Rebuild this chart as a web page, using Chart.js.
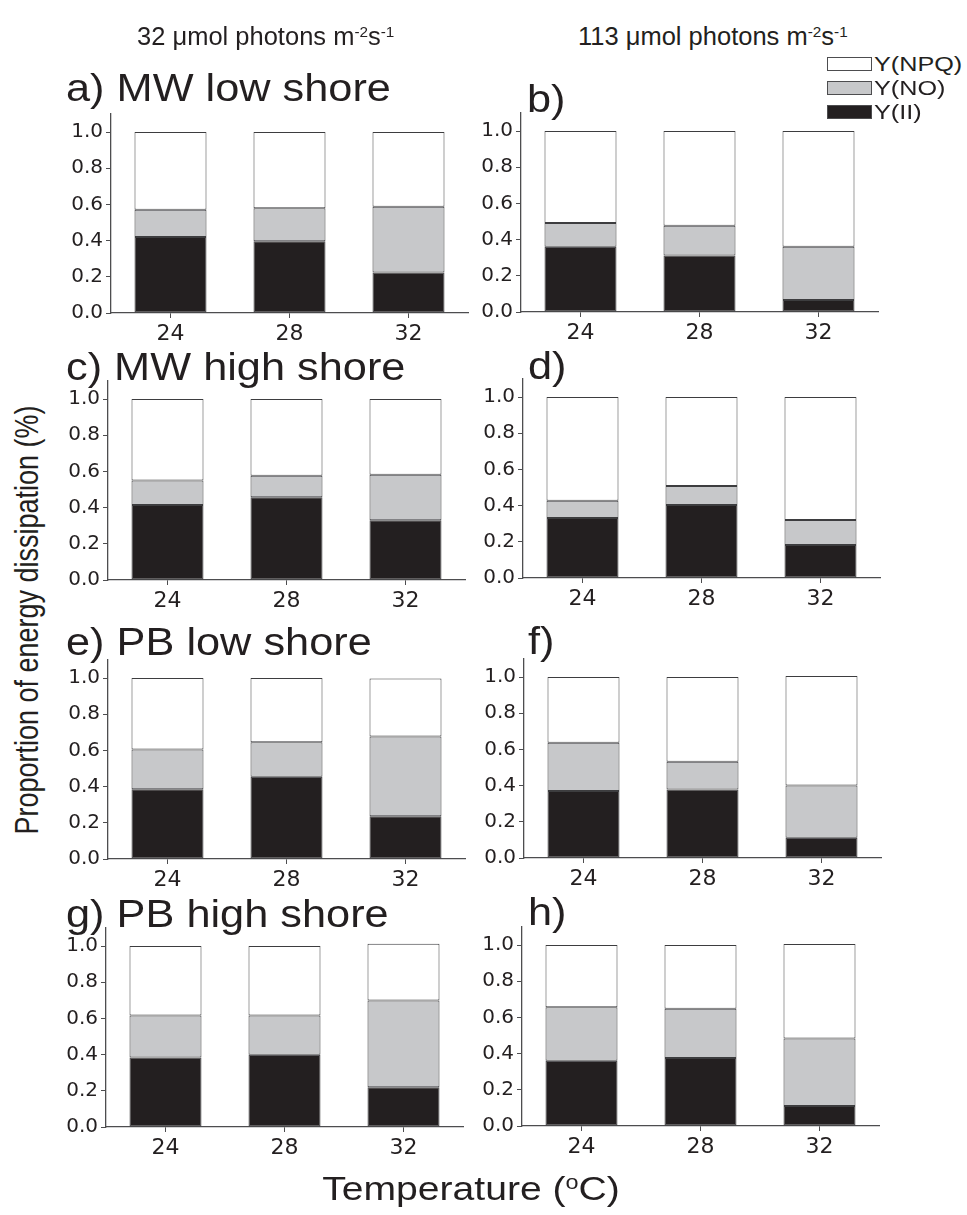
<!DOCTYPE html>
<html>
<head>
<meta charset="utf-8">
<script src="https://cdn.jsdelivr.net/npm/chart.js@4.4.1/dist/chart.umd.min.js"></script>
<style>
  body { margin: 0; background: #fff; }
  #page { position: relative; width: 967px; height: 1215px; overflow: hidden; font-family: "Liberation Sans", Arial, sans-serif; color: #231f20; }
  #page canvas { position: absolute; }
  .txt { position: absolute; white-space: nowrap; line-height: 1; transform-origin: 0 0; }
  .txt sup { font-size: 60%; vertical-align: 0.55em; line-height: 0; }
  .key { position: absolute; width: 43px; height: 12px; border: 1px solid #4d4d4f; }
</style>
</head>
<body>
<div id="page"></div>
<script>
const temps = ["24", "28", "32"];
const panelTitles = ["a) MW low shore", "b)", "c) MW high shore", "d)", "e) PB low shore", "f)", "g) PB high shore", "h)"];
const seriesNames = ["Y(II)", "Y(NO)", "Y(NPQ)"];

// one row per panel (a..h), values for 24, 28, 32 °C
const yII = [
  [0.420, 0.396, 0.224],
  [0.361, 0.313, 0.067],
  [0.415, 0.458, 0.330],
  [0.331, 0.403, 0.182],
  [0.386, 0.454, 0.236],
  [0.370, 0.378, 0.112],
  [0.384, 0.400, 0.220],
  [0.361, 0.376, 0.110],
];
const yNO = [
  [0.151, 0.183, 0.364],
  [0.131, 0.164, 0.293],
  [0.135, 0.118, 0.252],
  [0.096, 0.105, 0.138],
  [0.219, 0.192, 0.441],
  [0.267, 0.154, 0.289],
  [0.232, 0.216, 0.479],
  [0.296, 0.272, 0.373],
];
const yNPQ = [
  [0.429, 0.421, 0.412],
  [0.508, 0.523, 0.640],
  [0.450, 0.424, 0.418],
  [0.573, 0.492, 0.680],
  [0.395, 0.354, 0.321],
  [0.363, 0.468, 0.605],
  [0.384, 0.384, 0.314],
  [0.343, 0.352, 0.523],
];

const colors = ["#231f20", "#c7c8ca", "#ffffff"];
const axisColor = "#4d4d4f";
const tickFont = "'DejaVu Sans', sans-serif";

// layout: y-axis x position and zero-line y position of each panel
const axisX = [111, 521, 108, 523, 108, 524, 106, 522];
const zeroY = [313, 312, 580, 578, 859, 858, 1127, 1126];
const titleX = [66, 527, 66, 528, 66, 528, 66, 528];
const titleBase = [101, 112, 380, 379, 655, 654, 927, 925];

const page = document.getElementById("page");

function addText(html, x, baseline, size, sx, extra) {
  const d = document.createElement("div");
  d.className = "txt";
  d.innerHTML = html;
  d.style.fontSize = size + "px";
  d.style.left = x + "px";
  d.style.top = (baseline - 0.8465 * size) + "px";
  if (sx) d.style.transform = "scaleX(" + sx + ")";
  if (extra) Object.assign(d.style, extra);
  page.appendChild(d);
  return d;
}

function makePanel(i) {
  const yW = 60, xH = 46, padT = 18, padR = 8;
  const plotW = 357, plotH = 199;
  const cv = document.createElement("canvas");
  cv.width = yW + plotW + padR;
  cv.height = padT + plotH + xH;
  cv.style.left = (axisX[i] - yW) + "px";
  cv.style.top = (zeroY[i] - plotH - padT) + "px";
  page.appendChild(cv);

  const sets = [yII[i], yNO[i], yNPQ[i]].map((vals, k) => ({
    label: seriesNames[k],
    data: vals,
    backgroundColor: colors[k],
    borderColor: "#3d3d3f",
    borderWidth: 1,
    borderSkipped: false,
    barPercentage: 0.605,
    categoryPercentage: 1,
  }));

  new Chart(cv, {
    type: "bar",
    data: { labels: temps, datasets: sets },
    options: {
      responsive: false,
      animation: false,
      layout: { padding: { top: padT, right: padR, left: 0, bottom: 0 } },
      plugins: { legend: { display: false }, tooltip: { enabled: false } },
      scales: {
        x: {
          stacked: true,
          grid: { display: true, drawOnChartArea: false, offset: false, tickLength: 5, color: axisColor },
          border: { display: true, color: axisColor, width: 1.3 },
          ticks: { color: "#231f20", font: { size: 22, family: tickFont }, padding: 3 },
          afterFit: (s) => { s.height = xH; },
        },
        y: {
          stacked: true,
          min: 0,
          max: 1.1,
          grid: { display: true, drawOnChartArea: false, tickLength: 5, color: axisColor },
          border: { display: true, color: axisColor, width: 1.3 },
          ticks: {
            stepSize: 0.2,
            includeBounds: false,
            color: "#231f20",
            font: { size: 20, family: tickFont },
            padding: 3,
            callback: (v) => v.toFixed(1),
          },
          afterFit: (s) => { s.width = yW; },
        },
      },
    },
  });

  addText(panelTitles[i], titleX[i], titleBase[i], 38, 1.14);
}

for (let i = 0; i < 8; i++) makePanel(i);

// column headers
addText("32 <span>&mu;</span>mol photons m<sup>-2</sup>s<sup>-1</sup>", 137, 45, 25, 1.02);
addText("113 <span>&mu;</span>mol photons m<sup>-2</sup>s<sup>-1</sup>", 578, 45, 25, 1.02);

// legend
const keyTops = [57, 81, 105];
[2, 1, 0].forEach((k, j) => {
  const b = document.createElement("div");
  b.className = "key";
  b.style.left = "827px";
  b.style.top = keyTops[j] + "px";
  b.style.background = colors[k];
  page.appendChild(b);
  addText(seriesNames[k], 874, keyTops[j] + 14, 20, 1.26);
});

// axis titles
addText("Proportion of energy dissipation (%)", 28, 620, 27, null, {
  transform: "translate(-50%, -50%) rotate(-90deg) scaleY(1.2)", transformOrigin: "50% 50%", top: "620px",
});
addText("Temperature (<sup>o</sup>C)", 471, 1188, 34, null, {
  transform: "translate(-50%, -50%) scaleX(1.15)", transformOrigin: "50% 50%", top: "1188px",
});
</script>
</body>
</html>
